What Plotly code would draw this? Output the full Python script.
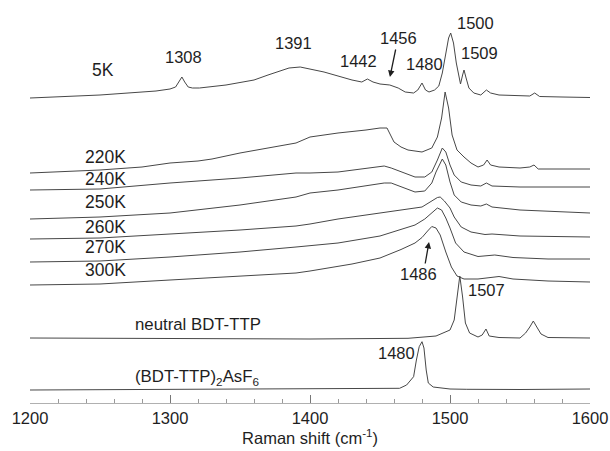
import plotly.graph_objects as go

# ---- Data (Raman shift in cm^-1, offset intensity in arbitrary units) ----
wn_5K = [1200, 1250, 1290, 1300, 1304, 1306.5, 1308.5, 1310.5, 1313, 1316, 1321, 1340, 1360, 1370, 1378, 1385,
         1393, 1400, 1410, 1420, 1430, 1437, 1441, 1445, 1450, 1457, 1463, 1468, 1474, 1477, 1480, 1482.5,
         1485, 1489, 1492, 1494.5, 1497, 1499, 1500.5, 1502.5, 1504.5, 1506.5, 1507.5, 1509, 1510, 1511.5,
         1513.5, 1517, 1522, 1526, 1529, 1535, 1550, 1557, 1560.5, 1564, 1580, 1600]
int_5K = [305, 308, 312, 314, 316, 321, 326, 321, 316, 315, 315, 318, 323, 328, 332, 335,
          336, 334, 331, 327, 323, 321, 324, 321, 319, 318, 315, 311, 310, 313, 320, 313,
          311, 313, 317, 330, 350, 365, 370, 360, 340, 323, 319, 328, 333, 325,
          315, 310, 308, 313, 310, 308, 307, 307, 310, 306.5, 306, 305.5]

wn_220K = [1200, 1250, 1280, 1300, 1320, 1330, 1350, 1370, 1390, 1400, 1420, 1440, 1450, 1455, 1460, 1465,
           1470, 1480, 1487, 1491, 1494, 1496.5, 1499, 1501.5, 1505, 1510, 1515, 1520, 1524, 1526.5, 1529,
           1535, 1550, 1557, 1560, 1563, 1580, 1600]
int_220K = [230, 233, 236, 240, 242, 244, 250, 255, 260, 266, 270, 273, 275, 275, 261, 256,
            253, 251, 255, 266, 285, 311, 295, 268, 253, 246, 240, 236, 238, 243, 238,
            236, 235, 236, 238, 234, 234, 234]

wn_240K = [1200, 1250, 1300, 1350, 1390, 1400, 1420, 1440, 1453, 1458, 1465, 1475, 1482, 1487, 1491, 1494.5,
           1497, 1500, 1503, 1508, 1515, 1522, 1526, 1530, 1550, 1600]
int_240K = [213, 214, 220, 225, 230, 230, 231, 235, 237, 235, 231, 226, 226, 231, 243, 255,
            251, 238, 228, 221, 218, 217, 220, 217, 216, 216]

wn_250K = [1200, 1250, 1300, 1350, 1390, 1400, 1420, 1440, 1453, 1458, 1465, 1475, 1482, 1487, 1490, 1493,
           1494.5, 1497, 1500, 1503, 1508, 1515, 1522, 1526, 1530, 1550, 1600]
int_250K = [184, 186, 190, 198, 206, 210, 213, 217, 220, 220, 216, 211, 212, 220, 231, 240,
            244, 238, 221, 208, 201, 198, 197, 199, 196, 193, 190]

wn_260K = [1200, 1250, 1300, 1350, 1390, 1400, 1420, 1450, 1465, 1480, 1487, 1491, 1493, 1496, 1500, 1503,
           1508, 1515, 1525, 1530, 1550, 1600]
int_260K = [164, 165, 169, 173, 177, 179, 184, 189.5, 193, 196, 202, 205.5, 206, 202, 195, 186,
            176, 171, 168.5, 169, 167, 166]

wn_270K = [1200, 1250, 1300, 1350, 1390, 1420, 1450, 1465, 1475, 1482, 1487, 1491, 1494, 1497, 1500, 1504,
           1510, 1520, 1532, 1545, 1570, 1600]
int_270K = [141, 142, 146, 151, 156, 160, 167, 174, 178, 184, 190, 195, 193, 185, 175, 160,
            151, 146.5, 148, 145.5, 144, 144]

wn_300K = [1200, 1250, 1300, 1350, 1390, 1400, 1430, 1450, 1465, 1475, 1480, 1484, 1487, 1490, 1493, 1497,
           1501, 1505, 1510, 1520, 1530, 1535, 1545, 1570, 1600]
int_300K = [118, 119, 123, 127, 130, 132, 139, 145, 153.5, 160, 165.5, 172, 176.5, 175, 168, 151,
            136, 127, 124, 124, 126, 126.5, 124, 122, 121]

wn_neutral = [1200, 1300, 1400, 1470, 1490, 1495, 1500, 1503, 1505, 1507, 1509, 1511, 1514, 1520, 1523,
              1525.7, 1528, 1535, 1550, 1554, 1557, 1559.5, 1562, 1565, 1570, 1600]
int_neutral = [65, 64.5, 64, 64.7, 67, 70, 73, 83, 106, 127, 106, 80, 70, 66, 68,
               74, 67, 65.5, 65, 70, 76, 82, 76, 69, 65.5, 65]

wn_asf6 = [1200, 1300, 1400, 1450, 1464, 1469, 1474, 1476, 1478, 1480, 1481.4, 1483, 1484.5, 1488, 1500,
           1512, 1550, 1600]
int_asf6 = [13, 13.5, 14, 14.5, 14.7, 18, 26.3, 43, 56.3, 61.3, 55, 33, 20, 16, 14,
            13.7, 13.5, 14]

series = [
    ("5K", wn_5K, int_5K),
    ("220K", wn_220K, int_220K),
    ("240K", wn_240K, int_240K),
    ("250K", wn_250K, int_250K),
    ("260K", wn_260K, int_260K),
    ("270K", wn_270K, int_270K),
    ("300K", wn_300K, int_300K),
    ("neutral BDT-TTP", wn_neutral, int_neutral),
    ("(BDT-TTP)2AsF6", wn_asf6, int_asf6),
]

# Curve labels
label_text = ["5K", "220K", "240K", "250K", "260K", "270K", "300K",
              "neutral BDT-TTP", "(BDT-TTP)<sub>2</sub>AsF<sub>6</sub>"]
label_x = [1252, 1253.6, 1253.6, 1253.6, 1253.6, 1253.6, 1253.6, 1320, 1319.3]
label_y = [333, 246.5, 224.5, 201.5, 176.5, 156.5, 133, 79, 26]
label_size = [17.5, 17.5, 17.5, 17.5, 17.5, 17.5, 17.5, 16.8, 16.8]

# Peak labels
peak_text = ["1308", "1391", "1442", "1456", "1480", "1500", "1509", "1486", "1507", "1480"]
peak_x = [1309.3, 1387.9, 1434.6, 1463.2, 1482.1, 1517.9, 1521.4, 1477.5, 1526.1, 1462.1]
peak_y = [346, 360.5, 342, 365.5, 339.5, 380, 350, 129.5, 113.5, 50]

# Arrows (tail -> head)
arrow_tail_x = [1461.4, 1482.1]
arrow_tail_y = [355, 138]
arrow_head_x = [1457.1, 1485]
arrow_head_y = [326, 161]

FONT = "Liberation Sans, Arial, Helvetica, sans-serif"
LINE_COLOR = "#474747"
TEXT_COLOR = "#1e1e1e"

fig = go.Figure()
for name, xs, ys in series:
    fig.add_trace(go.Scatter(x=xs, y=ys, mode="lines", name=name,
                             line=dict(color=LINE_COLOR, width=1), showlegend=False,
                             hoverinfo="skip"))

annotations = []
for t, x, y, s in zip(label_text, label_x, label_y, label_size):
    annotations.append(dict(text=t, x=x, y=y, xref="x", yref="y", showarrow=False,
                            font=dict(family=FONT, size=s, color=TEXT_COLOR)))
for t, x, y in zip(peak_text, peak_x, peak_y):
    annotations.append(dict(text=t, x=x, y=y, xref="x", yref="y", showarrow=False,
                            font=dict(family=FONT, size=16.5, color=TEXT_COLOR)))
for tx, ty, hx, hy in zip(arrow_tail_x, arrow_tail_y, arrow_head_x, arrow_head_y):
    annotations.append(dict(text="", x=hx, y=hy, ax=tx, ay=ty, xref="x", yref="y",
                            axref="x", ayref="y", showarrow=True, arrowhead=2,
                            arrowsize=1, arrowwidth=1.3, arrowcolor=TEXT_COLOR, standoff=0))

fig.update_layout(
    width=610, height=451,
    margin=dict(l=30, r=20, t=0, b=48),
    paper_bgcolor="white", plot_bgcolor="white",
    font=dict(family=FONT, size=16, color=TEXT_COLOR),
    annotations=annotations,
    shapes=[dict(type="line", xref="x", yref="y", x0=1600.5, x1=1600.5, y0=373, y1=393,
                 line=dict(color="#9a9a9a", width=1, dash="dot"))],
)
fig.update_xaxes(
    range=[1200, 1600], tickvals=[1200, 1300, 1400, 1500, 1600],
    ticks="inside", ticklen=8, tickwidth=1, tickcolor="#777",
    minor=dict(dtick=20, ticks="inside", ticklen=4, tickcolor="#999", tickwidth=1),
    showline=True, linecolor="#b0b0b0", linewidth=1, mirror=False,
    showgrid=False, zeroline=False,
    tickfont=dict(family=FONT, size=16.5, color=TEXT_COLOR),
    title=dict(text="Raman shift (cm<sup>-1</sup>)", standoff=2,
               font=dict(family=FONT, size=16.5, color=TEXT_COLOR)),
)
fig.update_yaxes(range=[0, 403], visible=False, showgrid=False, zeroline=False)

fig.write_html("out.html")
